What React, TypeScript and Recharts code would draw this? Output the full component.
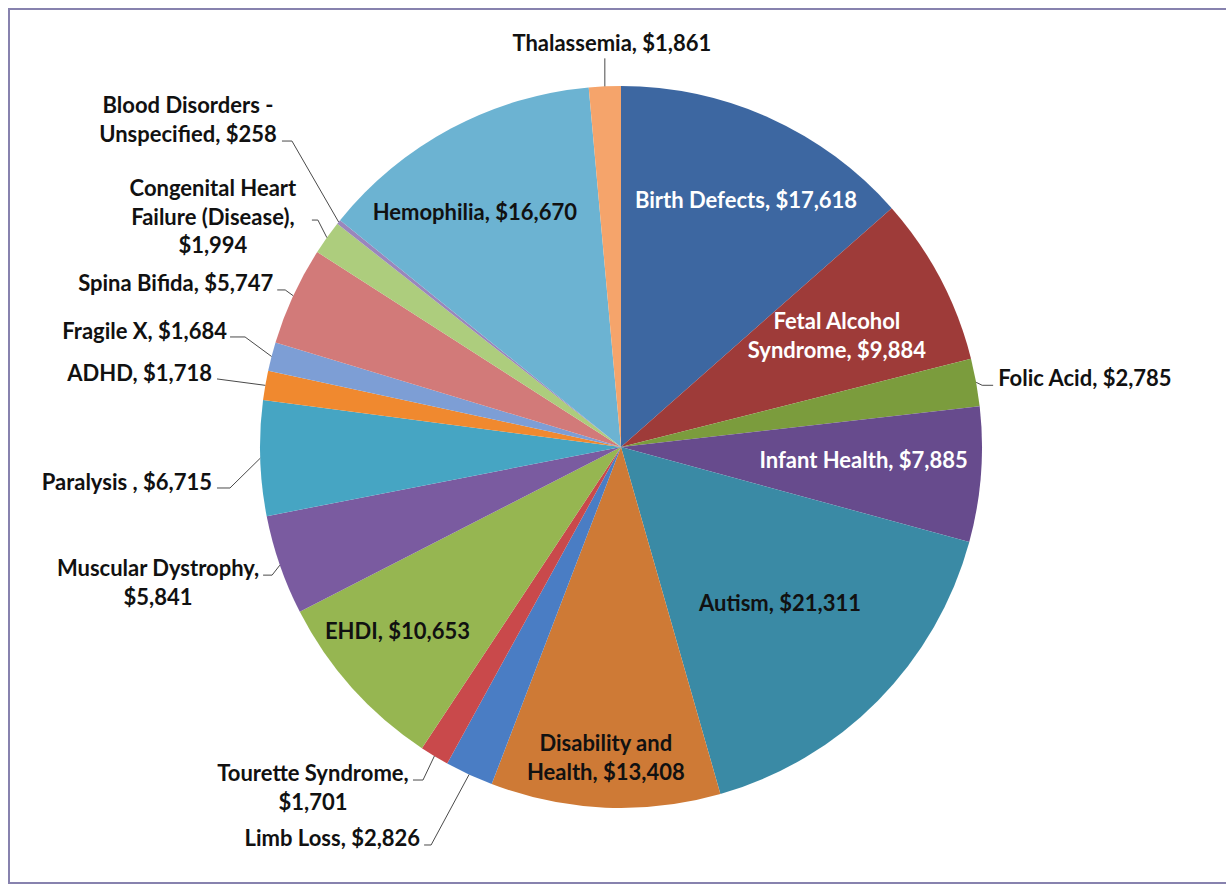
import React from "react";
import { PieChart, Pie, Cell } from "recharts";

// ---- data ----
const categories: string[] = [
  "Birth Defects",
  "Fetal Alcohol Syndrome",
  "Folic Acid",
  "Infant Health",
  "Autism",
  "Disability and Health",
  "Limb Loss",
  "Tourette Syndrome",
  "EHDI",
  "Muscular Dystrophy",
  "Paralysis ",
  "ADHD",
  "Fragile X",
  "Spina Bifida",
  "Congenital Heart Failure (Disease)",
  "Blood Disorders - Unspecified",
  "Hemophilia",
  "Thalassemia",
];

const values: number[] = [
  17618, 9884, 2785, 7885, 21311, 13408, 2826, 1701, 10653, 5841, 6715, 1718,
  1684, 5747, 1994, 258, 16670, 1861,
];

// label text wrapping ("|" = line break)
const displayNames: string[] = [
  "Birth Defects",
  "Fetal Alcohol|Syndrome",
  "Folic Acid",
  "Infant Health",
  "Autism",
  "Disability and|Health",
  "Limb Loss",
  "Tourette Syndrome",
  "EHDI",
  "Muscular Dystrophy",
  "Paralysis ",
  "ADHD",
  "Fragile X",
  "Spina Bifida",
  "Congenital Heart|Failure (Disease)",
  "Blood Disorders -|Unspecified",
  "Hemophilia",
  "Thalassemia",
];
const valueOnOwnLine: boolean[] = [
  false, false, false, false, false, false, false, true, false, true, false,
  false, false, false, true, false, false, false,
];

// ---- styles ----
const colors: string[] = [
  "#3D67A1",
  "#9E3B39",
  "#7B9C3D",
  "#674B8D",
  "#3A8AA5",
  "#CE7A36",
  "#4A7DC4",
  "#C9494B",
  "#96B651",
  "#7A5BA0",
  "#46A5C3",
  "#F0892F",
  "#7D9ED5",
  "#D27A79",
  "#ADCD7D",
  "#9A86BC",
  "#6CB3D2",
  "#F5A46B",
];

type InCfg = { kind: "in"; r: number; shift: number; fill: string };
type OutCfg = {
  kind: "out";
  elbow: [number, number];
  end: [number, number];
  text: [number, number];
  anchor: "start" | "middle" | "end";
};
const layout: (InCfg | OutCfg)[] = [
  { kind: "in", r: 0.767, shift: 2.55, fill: "#FFFFFF" },
  { kind: "in", r: 0.673, shift: 0.5, fill: "#FFFFFF" },
  { kind: "out", elbow: [6, 3], end: [17, 3], text: [5, -7], anchor: "start" },
  { kind: "in", r: 0.673, shift: -1.3, fill: "#FFFFFF" },
  { kind: "in", r: 0.618, shift: -0.1, fill: "#111111" },
  { kind: "in", r: 0.861, shift: 0.3, fill: "#111111" },
  { kind: "out", elbow: [-38, 70.5], end: [-45, 70.5], text: [-4, -7], anchor: "end" },
  { kind: "out", elbow: [-11.4, 24], end: [-21.4, 24], text: [-100, -7], anchor: "middle" },
  { kind: "in", r: 0.803, shift: 2.3, fill: "#111111" },
  { kind: "out", elbow: [-7.8, 10], end: [-16.8, 10], text: [-105, -7], anchor: "middle" },
  { kind: "out", elbow: [-30.2, 29.7], end: [-43.2, 29.7], text: [-5, -6], anchor: "end" },
  { kind: "out", elbow: [-48.3, -6.4], end: [-48.3, -6.4], text: [-5, -6], anchor: "end" },
  { kind: "out", elbow: [-26.5, -19.5], end: [-41.5, -19.5], text: [-3, -6], anchor: "end" },
  { kind: "out", elbow: [-8, -5.8], end: [-16, -5.8], text: [-4, -7], anchor: "end" },
  { kind: "out", elbow: [-9, -17.6], end: [-15, -17.6], text: [-99, -32], anchor: "middle" },
  { kind: "out", elbow: [-46.7, -81], end: [-56.7, -81], text: [-94, -36], anchor: "middle" },
  { kind: "in", r: 0.767, shift: -3.75, fill: "#111111" },
  { kind: "out", elbow: [0, -28], end: [0, -28], text: [7, -15], anchor: "middle" },
];

const data = categories.map((name, i) => ({ name, value: values[i] }));

const fmt = (v: number) => v.toLocaleString("en-US");
const labelLines = (i: number): string[] => {
  const sep = valueOnOwnLine[i] ? ",|" : ", ";
  return (displayNames[i] + sep + "$" + fmt(values[i])).split("|");
};

const RAD = Math.PI / 180;
const polar = (cx: number, cy: number, r: number, deg: number): [number, number] => [
  cx + r * Math.cos(-deg * RAD),
  cy + r * Math.sin(-deg * RAD),
];

const FONT = "Lato, 'Open Sans', sans-serif";
const FS = 22;
const LH = 28.8;

const renderLabel = (props: any) => {
  const { cx, cy, midAngle, outerRadius, index } = props;
  const cfg = layout[index];
  const lines = labelLines(index);
  if (!cfg) return null;
  if (cfg.kind === "in") {
    const [x, y] = polar(cx, cy, outerRadius * cfg.r, midAngle - cfg.shift);
    const y0 = y - ((lines.length - 1) * LH) / 2;
    return (
      <text
        key={`l-${index}`}
        x={x}
        y={y0}
        fill={cfg.fill}
        textAnchor="middle"
        fontFamily={FONT}
        fontWeight={700}
        fontSize={FS}
      >
        {lines.map((t, k) => (
          <tspan key={k} x={x} y={y0 + k * LH} dy="0.35em">
            {t}
          </tspan>
        ))}
      </text>
    );
  }
  const [ex, ey] = polar(cx, cy, outerRadius, midAngle);
  const bx = ex + cfg.elbow[0];
  const by = ey + cfg.elbow[1];
  const nx = ex + cfg.end[0];
  const ny = ey + cfg.end[1];
  const tx = nx + cfg.text[0];
  const ty = ny + cfg.text[1];
  return (
    <g key={`l-${index}`}>
      <polyline
        points={`${ex},${ey} ${bx},${by} ${nx},${ny}`}
        fill="none"
        stroke="#4A4A4A"
        strokeWidth={1}
      />
      <text
        x={tx}
        y={ty}
        fill="#111111"
        textAnchor={cfg.anchor}
        fontFamily={FONT}
        fontWeight={700}
        fontSize={FS}
      >
        {lines.map((t, k) => (
          <tspan key={k} x={tx} y={ty + k * LH} dy="0.35em">
            {t}
          </tspan>
        ))}
      </text>
    </g>
  );
};

export default function App() {
  return (
    <div
      style={{
        position: "absolute",
        left: 0,
        top: 0,
        width: 1226,
        height: 884,
        overflow: "hidden",
        background: "#FFFFFF",
      }}
    >
      <div
        style={{
          position: "absolute",
          left: 8,
          top: 8,
          width: 1240,
          height: 876,
          boxSizing: "border-box",
          border: "2px solid #8782AE",
        }}
      />
      <div style={{ position: "absolute", left: 0, top: 0 }}>
        <PieChart width={1226} height={884} margin={{ top: 0, right: 0, bottom: 0, left: 0 }}>
          <Pie
            data={data}
            dataKey="value"
            nameKey="name"
            cx={621}
            cy={447}
            outerRadius={361}
            startAngle={90}
            endAngle={-270}
            stroke="none"
            isAnimationActive={false}
            labelLine={false}
            label={renderLabel}
          >
            {data.map((d, i) => (
              <Cell key={d.name} fill={colors[i]} />
            ))}
          </Pie>
        </PieChart>
      </div>
    </div>
  );
}
